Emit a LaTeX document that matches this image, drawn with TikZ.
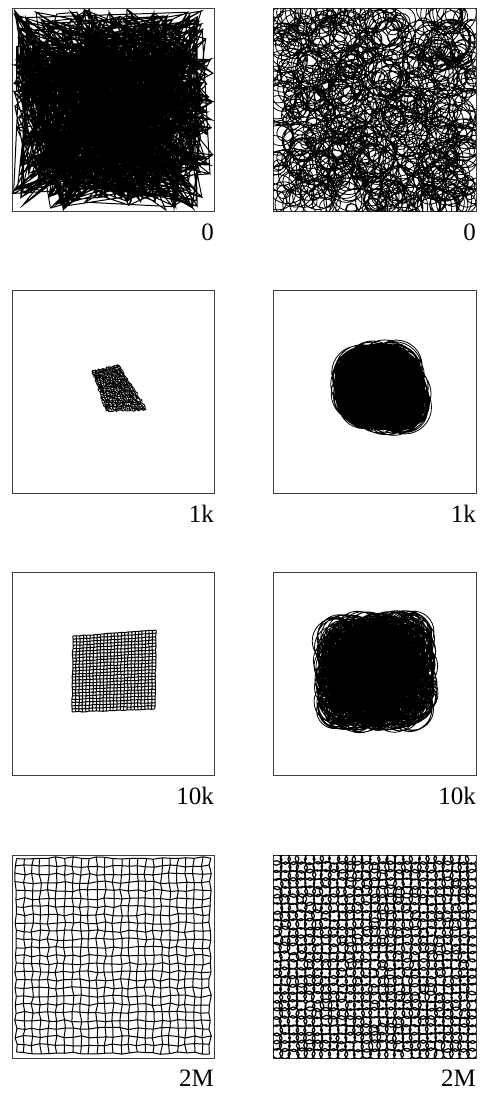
\documentclass[tikz,border=0pt]{standalone}
\usepackage{fontspec}
\setmainfont{Liberation Serif}
\usetikzlibrary{calc}
\tikzset{
  frame/.style={draw=black!75, line width=0.7pt},
  itno/.style={font=\fontsize{25}{28}\selectfont, inner sep=0pt, anchor=base east},
  net/.style={line width=1pt, black},
  finenet/.style={line width=0.7pt, black},
  rf/.style={line width=0.8pt, black},
  rfthick/.style={rf, line width=1.2pt},
}
\newcommand\mkgrid[6]{%
  \foreach \i in {0,...,24}{\foreach \j in {0,...,24}{%
    \pgfmathsetmacro\uu{\i/24}\pgfmathsetmacro\vv{\j/24}%
    \coordinate (t) at ($#2!\uu!#3$);
    \coordinate (b) at ($#4!\uu!#5$);
    \coordinate (#1-\i-\j) at ($(t)!\vv!(b)+({#6*rand},{#6*rand})$);
  }}}
\newcommand\drawnet[2]{%
  \draw[#1] \foreach \j in {0,...,24}{(#2-0-\j) \foreach \i in {1,...,24}{-- (#2-\i-\j)}}
    \foreach \i in {0,...,24}{(#2-\i-0) \foreach \j in {1,...,24}{-- (#2-\i-\j)}};}
\newcommand\drawrf[4][rf]{%
  \draw[#1] \foreach \i in {0,...,24}{\foreach \j [evaluate=\j as \r using {#3+#4*rnd}] in {0,...,24}{(#2-\i-\j) circle[radius=\r pt]}};}

\begin{document}
\begin{tikzpicture}[x=1pt,y=-1pt]
\useasboundingbox (0,0) rectangle (481,1095);
\pgfmathsetseed{4711}

% frames
\draw[frame] (12,8) rectangle (214,211);
\draw[frame] (273,8) rectangle (476,211);
\draw[frame] (12,290) rectangle (214,493);
\draw[frame] (273,290) rectangle (476,493);
\draw[frame] (12,572) rectangle (214,775);
\draw[frame] (273,572) rectangle (476,775);
\draw[frame] (12,855) rectangle (214,1058);
\draw[frame] (273,855) rectangle (476,1058);

% step 0
\foreach \i in {0,...,24}{\foreach \j in {0,...,24}{
  \coordinate (a-\i-\j) at ({13+200*rnd},{9+201*rnd});
}}
\drawnet{net}{a}
\begin{scope}
\clip (273,8) rectangle (476,211);
\draw[rf] \foreach \k [evaluate=\k as \r using {5+17*rnd}] in {1,...,625}{({274+201*rnd},{9+201*rnd}) circle[radius=\r pt]};
\end{scope}

% step 1k
\mkgrid{b}{(92,371)}{(119,365)}{(106,411)}{(147,410)}{0.9}
\drawnet{finenet}{b}
\mkgrid{c}{(360,372)}{(395,368)}{(362,402)}{(405,408)}{3}
\drawrf{c}{20}{8}

% step 10k
\mkgrid{d}{(73,636)}{(156,630)}{(72,712)}{(155,709)}{0.4}
\drawnet{net}{d}
\mkgrid{e}{(337,636)}{(414,632)}{(336,710)}{(414,708)}{2}
\drawrf{e}{17}{6}

% step 2M
\mkgrid{f}{(16,858)}{(210,858)}{(16,1053)}{(210,1053)}{1.3}
\drawnet{net}{f}
\begin{scope}
\clip (273,855) rectangle (476,1058);
\mkgrid{g}{(277,859)}{(472,859)}{(277,1054)}{(472,1054)}{0.8}
\drawrf[rfthick]{g}{4.8}{1}
\end{scope}

% labels
\node[itno] (s0l) at (214,240) {0};
\node[itno] (s0r) at (476,240) {0};
\node[itno] (s1l) at (214,522) {1k};
\node[itno] (s1r) at (476,522) {1k};
\node[itno] (s2l) at (214,804) {10k};
\node[itno] (s2r) at (476,804) {10k};
\node[itno] (s3l) at (214,1086) {2M};
\node[itno] (s3r) at (476,1086) {2M};
\end{tikzpicture}
\end{document}
